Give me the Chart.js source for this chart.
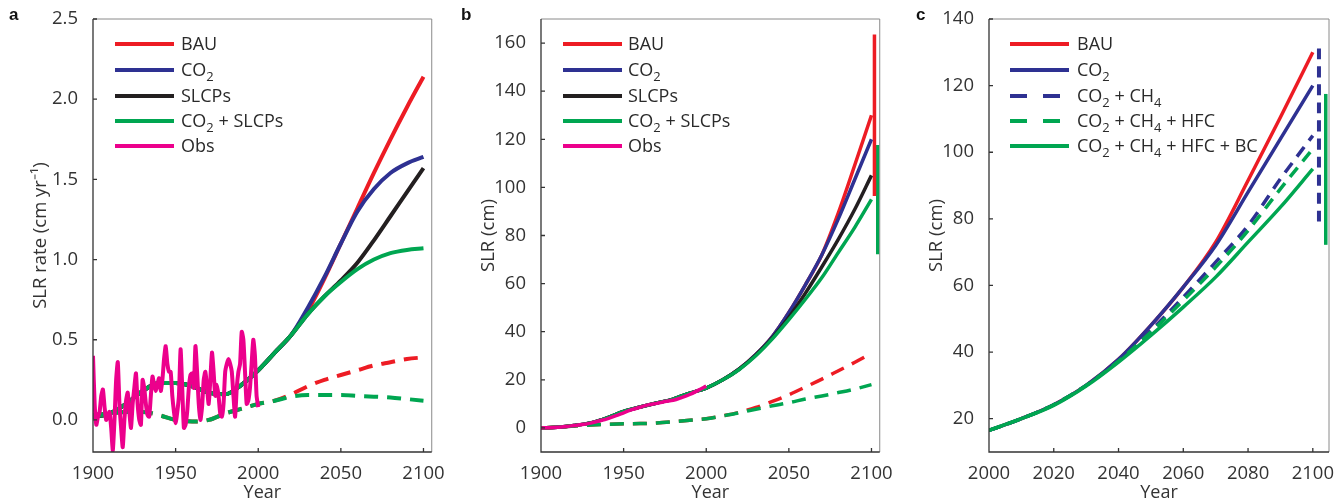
<!DOCTYPE html>
<html>
<head>
<meta charset="utf-8">
<script src="https://cdn.jsdelivr.net/npm/chart.js@4"></script>
<style>
  body { margin: 0; background: #fff; width: 1344px; height: 504px; overflow: hidden; font-family: "Open Sans", sans-serif; }
  .panel { position: absolute; top: 0; width: 448px; height: 504px; }
  .letter { position: absolute; font: bold 17px "Liberation Sans", Arial, sans-serif; color: #111; }
  .lg-line { position: absolute; height: 4px; }
  .lg-text { position: absolute; font-size: 18px; color: #2a2a2a; line-height: 20px; white-space: nowrap; }
  .lg-text sub { font-size: 0.72em; vertical-align: -0.35em; line-height: 0; }
</style>
</head>
<body>
<div class="panel" style="left:0"><canvas id="chartA" width="448" height="504"></canvas></div>
<div class="panel" style="left:448px"><canvas id="chartB" width="448" height="504"></canvas></div>
<div class="panel" style="left:896px"><canvas id="chartC" width="448" height="504"></canvas></div>
<div class="letter" style="left:9px;top:5px">a</div>
<div class="letter" style="left:461px;top:5px">b</div>
<div class="letter" style="left:916px;top:5px">c</div>
<div id="legends"></div>
<script>
// colours
const RED = "#ed1c24", BLUE = "#2e3192", BLACK = "#231f20", GREEN = "#00a651", PINK = "#ec008c";

// ---- panel a: SLR rate ----
const yearsA = [1900,1910,1920,1930,1940,1950,1960,1970,1980,1990,2000,2010,2020,2030,2040,2050,2060,2070,2080,2090,2100];
const bauA     = [0.02,0.04,0.10,0.18,0.23,0.23,0.21,0.17,0.16,0.22,0.31,0.42,0.53,0.68,0.88,1.10,1.32,1.54,1.75,1.95,2.14];
const co2A     = [0.02,0.04,0.10,0.18,0.23,0.23,0.21,0.17,0.16,0.22,0.31,0.42,0.53,0.70,0.89,1.10,1.30,1.44,1.54,1.60,1.64];
const slcpA    = [0.02,0.04,0.10,0.18,0.23,0.23,0.21,0.17,0.16,0.22,0.31,0.42,0.53,0.66,0.77,0.87,0.98,1.12,1.27,1.42,1.57];
const bothA    = [0.02,0.04,0.10,0.18,0.23,0.23,0.21,0.17,0.16,0.22,0.31,0.42,0.53,0.66,0.77,0.86,0.94,1.00,1.04,1.06,1.07];
const bauDashA = [0.03,0.04,0.05,0.05,0.03,0.00,-0.01,0.00,0.04,0.07,0.10,0.12,0.16,0.21,0.25,0.28,0.31,0.34,0.36,0.38,0.39];
const bothDashA= [0.03,0.04,0.05,0.05,0.03,0.00,-0.01,0.00,0.04,0.07,0.10,0.12,0.145,0.155,0.155,0.155,0.15,0.145,0.14,0.13,0.12];
const obsYearsA = [];
for (let y = 1900; y <= 2000; y++) obsYearsA.push(y);
const obsA = [0.40,0.10,-0.03,0.02,0.05,0.15,0.19,0.08,0.00,0.03,
  0.05,-0.05,-0.19,0.00,0.25,0.36,0.10,-0.05,-0.17,0.00,
  0.12,0.17,0.05,-0.05,0.10,0.20,0.29,0.10,0.00,-0.03,
  0.25,0.20,0.10,0.03,0.02,0.15,0.27,0.22,0.18,0.22,
  0.26,0.18,0.25,0.38,0.46,0.35,0.30,0.30,0.15,0.05,
  -0.02,0.05,0.15,0.44,0.20,-0.05,-0.03,0.05,0.20,0.28,
  0.29,0.20,0.46,0.30,0.10,0.00,0.08,0.25,0.30,0.20,
  0.10,0.25,0.42,0.30,0.15,0.22,0.15,0.04,0.02,0.10,
  0.30,0.35,0.38,0.35,0.30,0.15,0.02,0.20,0.30,0.35,
  0.55,0.50,0.30,0.10,0.12,0.20,0.35,0.50,0.40,0.15,0.08];
const xTicksA = [1900,1950,2000,2050,2100];
const yTicksA = [0,0.5,1,1.5,2,2.5];

// ---- panel b: SLR ----
const yearsB = yearsA;
const bauB     = [0,0.3,1.0,2.1,4.2,6.9,8.7,10.4,12,14.5,16.6,20,24.5,30.5,38,48,59.5,72,89.5,109.5,130];
const co2B     = [0,0.3,1.0,2.1,4.2,6.9,8.7,10.4,12,14.5,16.6,20,24.5,30.5,38,48,59.5,72,87,103.5,120];
const slcpB    = [0,0.3,1.0,2.1,4.2,6.9,8.7,10.4,12,14.5,16.6,20,24.5,30.3,37.4,46,56,67,78.5,91,105];
const bothB    = [0,0.3,1.0,2.1,4.2,6.9,8.7,10.4,12,14.5,16.6,20,24.3,30,37,45,53.5,62.5,73,83.5,95];
const bauDashB = [0,0.3,0.8,1.2,1.5,1.7,1.8,2.1,2.6,3.2,3.8,5,6.5,8.5,11,13.8,17,20.3,23.8,27.3,31];
const bothDashB= [0,0.3,0.8,1.2,1.5,1.7,1.8,2.1,2.6,3.2,3.8,5,6.3,7.8,9.2,10.5,12,13.3,14.7,16.2,18];
const obsYearsB = [1900,1905,1910,1915,1920,1925,1930,1935,1940,1945,1950,1955,1960,1965,1970,1975,1980,1985,1990,1995,2000];
const obsB = [0,0.1,0.3,0.6,1.0,1.4,2.0,2.9,3.8,5.0,6.3,7.6,8.6,9.6,10.2,11.0,11.5,12.6,13.9,15.6,17.4];
const rangeBauB = [96.4,163.6];   // at 2101.8
const rangeBothB = [72.2,117.6];  // at 2103.8
const xTicksB = xTicksA;
const yTicksB = [0,20,40,60,80,100,120,140,160];

// ---- panel c: SLR 2000-2100 ----
const yearsC = [2000,2010,2020,2030,2040,2050,2060,2070,2080,2090,2100];
const bauC      = [16.5,20,24.2,30,37.8,48,59.5,73,91.5,110.5,130];
const co2C      = [16.5,20,24.2,30,37.8,48,59.5,72,88,104,120];
const co2ch4C   = [16.5,20,24.2,30,37.5,46.5,56.5,67,78,92,105];
const plusHfcC  = [16.5,20,24.2,30,37.3,46,55.5,65.5,76.5,89,101];
const plusBcC   = [16.5,20,24,29.8,37,45,53.5,62.5,73,83.5,95];
const rangeCo2ch4C = [79.2,131.2]; // at 2101.9
const rangeBcC = [72.2,117.5];     // at 2104
const xTicksC = [2000,2020,2040,2060,2080,2100];
const yTicksC = [20,40,60,80,100,120,140];

const pts = (xs, ys) => xs.map((x, i) => ({x: x, y: ys[i]}));
const bar = (x, r) => [{x: x, y: r[0]}, {x: x, y: r[1]}];

function line(data, color, width, dash) {
  return {
    data: data, borderColor: color, borderWidth: width, borderDash: dash || [],
    pointRadius: 0, fill: false, cubicInterpolationMode: "monotone",
    borderCapStyle: "butt", borderJoinStyle: "round"
  };
}

// box round the plot and short inward ticks
const frame = {
  id: "frame",
  afterDatasetsDraw(chart) {
    const {ctx, chartArea: a, scales} = chart;
    ctx.save();
    ctx.lineWidth = 1;
    ctx.strokeStyle = "#8a8a8a";
    ctx.beginPath();
    ctx.moveTo(a.left, a.top); ctx.lineTo(a.right, a.top); ctx.lineTo(a.right, a.bottom);
    ctx.stroke();
    ctx.strokeStyle = "#333";
    ctx.lineWidth = 1.3;
    ctx.beginPath();
    ctx.moveTo(a.left, a.top); ctx.lineTo(a.left, a.bottom); ctx.lineTo(a.right, a.bottom);
    scales.x.ticks.forEach(t => {
      const px = scales.x.getPixelForValue(t.value);
      ctx.moveTo(px, a.bottom); ctx.lineTo(px, a.bottom - 4);
    });
    scales.y.ticks.forEach(t => {
      const py = scales.y.getPixelForValue(t.value);
      ctx.moveTo(a.left, py); ctx.lineTo(a.left + 4, py);
    });
    ctx.stroke();
    ctx.restore();
  }
};

const tickFont = {family: "Open Sans", size: 18.5};

function makeChart(id, datasets, xr, xTicks, yr, yTicks, yTitle, yFmt) {
  new Chart(document.getElementById(id), {
    type: "line",
    data: {datasets: datasets},
    options: {
      responsive: false,
      animation: false,
      layout: {padding: {top: 19, right: 15, left: 0, bottom: 0}},
      plugins: {legend: {display: false}, tooltip: {enabled: false}},
      scales: {
        x: {
          type: "linear", min: xr[0], max: xr[1],
          grid: {display: false}, border: {display: false},
          afterBuildTicks: s => { s.ticks = xTicks.map(v => ({value: v})); },
          afterFit: s => { s.height = 52; },
          ticks: {font: tickFont, color: "#333", padding: 3, maxRotation: 0, autoSkip: false,
                  callback: v => String(v)},
          title: {display: true, text: "Year", font: {family: "Open Sans", size: 18}, color: "#333", padding: {top: 0, bottom: 0}}
        },
        y: {
          min: yr[0], max: yr[1],
          grid: {display: false}, border: {display: false},
          afterBuildTicks: s => { s.ticks = yTicks.map(v => ({value: v})); },
          afterFit: s => { s.width = 93; },
          ticks: {font: tickFont, color: "#333", padding: 7, autoSkip: false, callback: yFmt},
          title: {display: true, text: yTitle, font: tickFont, color: "#333", padding: {top: 30, bottom: 0}}
        }
      }
    },
    plugins: [frame]
  });
}

// first dataset is drawn on top
makeChart("chartA", [
  Object.assign(line(pts(obsYearsA, obsA), PINK, 4), {cubicInterpolationMode: "default", tension: 0.2}),
  line(pts(yearsA, bothDashA), GREEN, 4, [14, 9]),
  line(pts(yearsA, bauDashA), RED, 4, [14, 9]),
  line(pts(yearsA, bothA), GREEN, 4),
  line(pts(yearsA, slcpA), BLACK, 4),
  line(pts(yearsA, co2A), BLUE, 4),
  line(pts(yearsA, bauA), RED, 4)
], [1900, 2105], xTicksA, [-0.2, 2.5], yTicksA, "SLR rate (cm yr\u207B\u00B9)", v => v.toFixed(1));

makeChart("chartB", [
  line(pts(obsYearsB, obsB), PINK, 3.5),
  line(pts(yearsB, bothDashB), GREEN, 3.5, [14, 9]),
  line(pts(yearsB, bauDashB), RED, 3.5, [14, 9]),
  line(pts(yearsB, bothB), GREEN, 3.5),
  line(pts(yearsB, slcpB), BLACK, 3.5),
  line(pts(yearsB, co2B), BLUE, 3.5),
  line(pts(yearsB, bauB), RED, 3.5),
  line(bar(2101.8, rangeBauB), RED, 3.5),
  line(bar(2103.8, rangeBothB), GREEN, 3.5)
], [1900, 2105], xTicksB, [-10, 170], yTicksB, "SLR (cm)", v => String(v));

makeChart("chartC", [
  line(pts(yearsC, plusBcC), GREEN, 3.5),
  line(pts(yearsC, plusHfcC), GREEN, 3.5, [12, 8]),
  line(pts(yearsC, co2ch4C), BLUE, 3.5, [12, 8]),
  line(pts(yearsC, co2C), BLUE, 3.5),
  line(pts(yearsC, bauC), RED, 3.5),
  line(bar(2101.9, rangeCo2ch4C), BLUE, 4, [11, 7]),
  line(bar(2104, rangeBcC), GREEN, 3.5)
], [2000, 2105], xTicksC, [10, 140], yTicksC, "SLR (cm)", v => String(v));

// legends (HTML so that subscripts stay real text)
const legendA = [
  {label: "BAU", color: RED}, {label: "CO<sub>2</sub>", color: BLUE}, {label: "SLCPs", color: BLACK},
  {label: "CO<sub>2</sub> + SLCPs", color: GREEN}, {label: "Obs", color: PINK}
];
const legendC = [
  {label: "BAU", color: RED}, {label: "CO<sub>2</sub>", color: BLUE},
  {label: "CO<sub>2</sub> + CH<sub>4</sub>", color: BLUE, dashed: true},
  {label: "CO<sub>2</sub> + CH<sub>4</sub> + HFC", color: GREEN, dashed: true},
  {label: "CO<sub>2</sub> + CH<sub>4</sub> + HFC + BC", color: GREEN}
];
const rowsY = [44, 70, 96, 121, 146];

function drawLegend(items, lineX, textX) {
  const box = document.getElementById("legends");
  items.forEach((it, i) => {
    const y = rowsY[i];
    if (it.dashed) {
      [0, 33].forEach(off => {
        const d = document.createElement("div");
        d.className = "lg-line";
        d.style.cssText = `left:${lineX + off}px;top:${y - 2}px;width:17px;background:${it.color}`;
        box.appendChild(d);
      });
    } else {
      const d = document.createElement("div");
      d.className = "lg-line";
      d.style.cssText = `left:${lineX}px;top:${y - 2}px;width:59px;background:${it.color}`;
      box.appendChild(d);
    }
    const t = document.createElement("div");
    t.className = "lg-text";
    t.style.cssText = `left:${textX}px;top:${y - 11}px`;
    t.innerHTML = it.label;
    box.appendChild(t);
  });
}
drawLegend(legendA, 115, 181);
drawLegend(legendA, 563, 628);
drawLegend(legendC, 1010, 1077);
</script>
</body>
</html>
